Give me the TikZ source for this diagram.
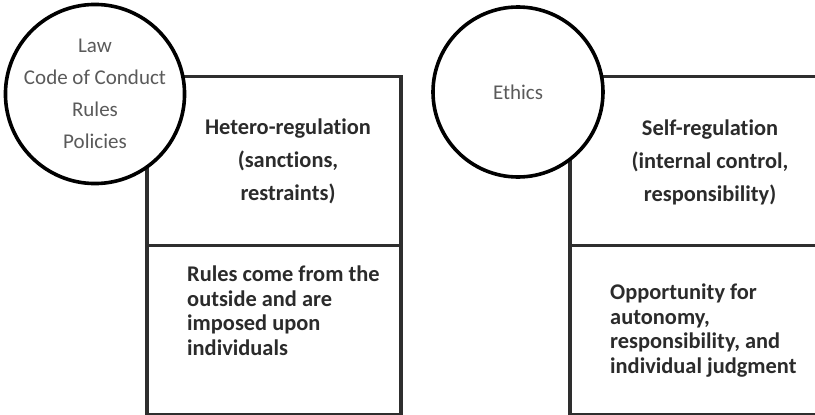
\documentclass[tikz,border=0pt]{standalone}
\usepackage{fontspec}
\setmainfont{Carlito}[Ligatures=NoCommon]
\usepackage{xcolor}
\usetikzlibrary{positioning}
\definecolor{ink}{HTML}{2B2B2B}
\definecolor{frame}{HTML}{2E2E2E}
\definecolor{soft}{HTML}{5A5A5A}
\tikzset{
  panel/.style={draw=frame,line width=3.2pt,fill=white,minimum width=254pt,minimum height=169pt,inner sep=0pt},
  ring/.style={circle,draw=black,line width=3.6pt,fill=white,minimum size=170pt,inner sep=0pt,align=center,text=soft,font=\fontsize{21}{32}\selectfont},
  head/.style={align=center,text=ink,font=\bfseries\fontsize{22.4}{33}\selectfont},
  body/.style={align=left,text=ink,font=\bfseries\fontsize{22.4}{24.5}\selectfont,inner sep=0pt}
}
\begin{document}
\begin{tikzpicture}[x=1pt,y=-1pt]
  \useasboundingbox (0,0) rectangle (815,415);
  \clip (0,0) rectangle (815,415);
  % left half
  \node[panel] (hetero) at (274,161) {};
  \node[panel,below=-3.2pt of hetero] (outside) {};
  \node[head] at (288,161) (heterotxt) {Hetero-regulation\\(sanctions,\\restraints)};
  \node[body,anchor=north west] at (187,266) (outsidetxt) {Rules come from the\\outside and are\\imposed upon\\individuals};
  \node[ring] (law) at (95,94) {Law\\Code of Conduct\\Rules\\Policies};
  % right half
  \node[panel] (self) at (697,161) {};
  \node[panel,below=-3.2pt of self] (auto) {};
  \node[head] at (710,162) (selftxt) {Self-regulation\\(internal control,\\responsibility)};
  \node[body,anchor=north west] at (610,284) (autotxt) {Opportunity for\\autonomy,\\responsibility, and\\individual judgment};
  \node[ring] (ethics) at (518,92) {Ethics};
\end{tikzpicture}
\end{document}
